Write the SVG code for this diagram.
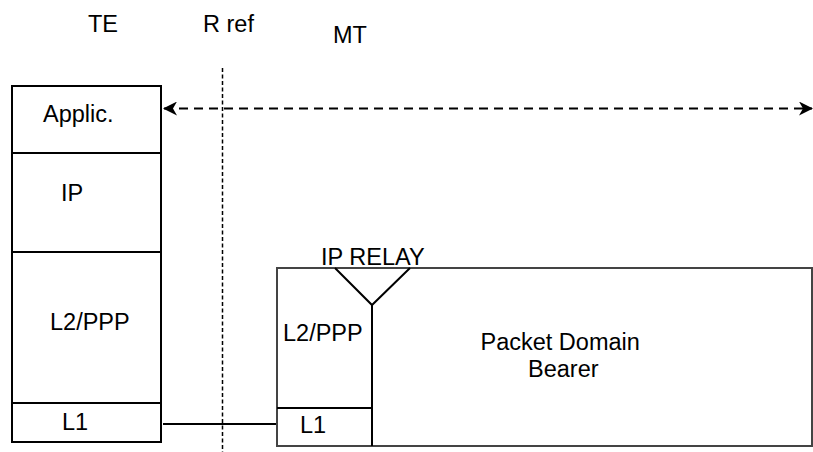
<svg xmlns="http://www.w3.org/2000/svg" width="813" height="452" viewBox="0 0 813 452">
<defs>
<style>
text{font-family:"Liberation Sans",Arial,sans-serif;font-size:23.5px;fill:#000}
.box{fill:#fff;stroke:#000;stroke-width:2}
.ln{stroke:#000;stroke-width:2;fill:none}
.mt{fill:#fff;stroke:#444;stroke-width:2}
</style>
<marker id="ah" viewBox="0 0 14 14" refX="13" refY="7" markerWidth="14" markerHeight="14" markerUnits="userSpaceOnUse" orient="auto-start-reverse">
<path d="M0,0 L14,7 L0,14 L4,7 Z" fill="#000"/>
</marker>
</defs>
<rect width="813" height="452" fill="#fff"/>
<g id="labels">
<text x="88" y="32">TE</text>
<text x="203" y="32">R ref</text>
<text x="333" y="43">MT</text>
</g>
<g id="te">
<rect class="box" x="12" y="86" width="149" height="356"/>
<line class="ln" x1="12" y1="153" x2="161" y2="153"/>
<line class="ln" x1="12" y1="252" x2="161" y2="252"/>
<line class="ln" x1="12" y1="403" x2="161" y2="403"/>
<text x="43" y="122">Applic.</text>
<text x="61" y="201">IP</text>
<text x="50" y="330">L2/PPP</text>
<text x="62" y="430">L1</text>
</g>
<g id="mt">
<rect class="mt" x="277" y="268" width="535" height="178"/>
<polyline class="ln" points="335,268 372,305 410,268"/>
<line class="ln" x1="372" y1="305" x2="372" y2="446"/>
<line class="ln" x1="277" y1="408" x2="372" y2="408"/>
<text x="321" y="265">IP RELAY</text>
<text x="283" y="341">L2/PPP</text>
<text x="300" y="433">L1</text>
<text x="480.5" y="350">Packet Domain</text>
<text x="528" y="377">Bearer</text>
</g>
<g id="connectors">
<line x1="222.5" y1="68" x2="222.5" y2="452" stroke="#000" stroke-width="1.5" stroke-dasharray="4,2.5"/>
<line x1="164" y1="108.5" x2="812" y2="108.5" stroke="#000" stroke-width="2" stroke-dasharray="9,6" marker-start="url(#ah)" marker-end="url(#ah)"/>
<line class="ln" x1="163" y1="424" x2="276" y2="424"/>
</g>
</svg>
